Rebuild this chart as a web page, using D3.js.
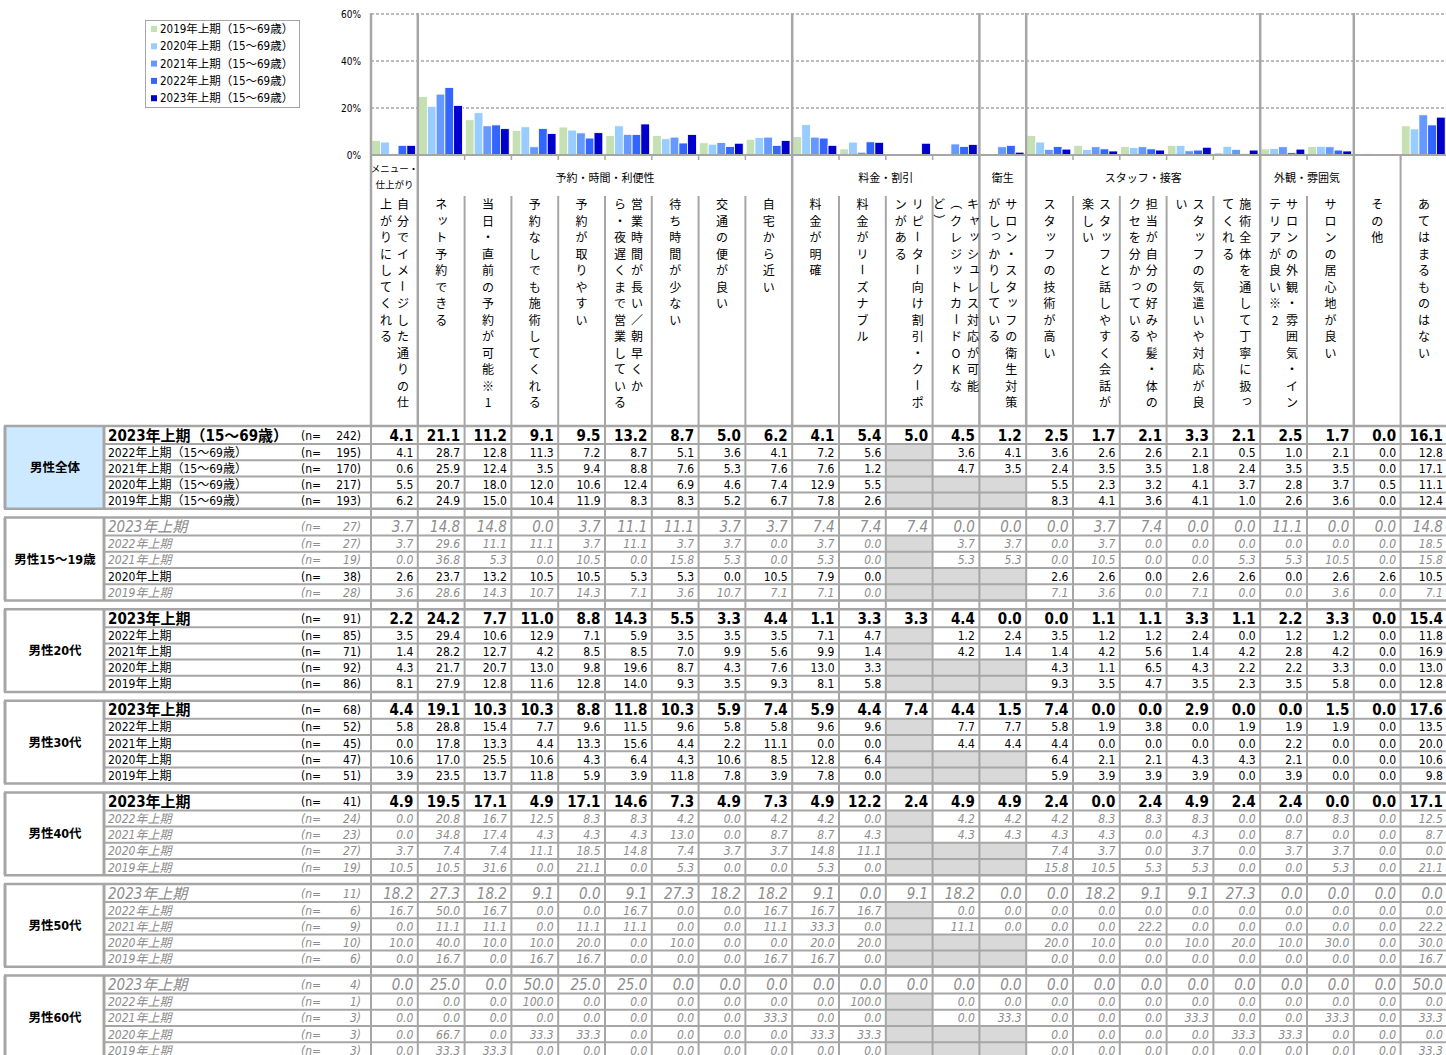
<!DOCTYPE html>
<html><head><meta charset="utf-8">
<script src="https://cdn.jsdelivr.net/npm/d3@7"></script>
<style>
body{margin:0;background:#fff;}
svg{display:block;}
text{font-family:'DejaVu Sans Condensed','DejaVu Sans','Noto Sans CJK JP',sans-serif;}
.jp{font-family:'Noto Sans CJK JP',sans-serif;}
</style></head><body>
<svg id="c" width="1446" height="1055"></svg>
<script>
// ---------------- DATA ----------------
const legendLabels = ["2019年上期（15～69歳）","2020年上期（15～69歳）","2021年上期（15～69歳）","2022年上期（15～69歳）","2023年上期（15～69歳）"];
const yTicks = [0,20,40,60];
const groupLabels = [
  {lines:["メニュー・","仕上がり"], start:0, end:1},
  {lines:["予約・時間・利便性"], start:1, end:9},
  {lines:["料金・割引"], start:9, end:13},
  {lines:["衛生"], start:13, end:14},
  {lines:["スタッフ・接客"], start:14, end:19},
  {lines:["外観・雰囲気"], start:19, end:21},
  {lines:[], start:21, end:22},
  {lines:[], start:22, end:23}
];
const columnLabels = [
  ["自分でイメージした通りの仕","上がりにしてくれる"],
  ["ネット予約できる"],
  ["当日・直前の予約が可能※1"],
  ["予約なしでも施術してくれる"],
  ["予約が取りやすい"],
  ["営業時間が長い／朝早くか","ら・夜遅くまで営業している"],
  ["待ち時間が少ない"],
  ["交通の便が良い"],
  ["自宅から近い"],
  ["料金が明確"],
  ["料金がリーズナブル"],
  ["リピーター向け割引・クーポ","ンがある"],
  ["キャッシュレス対応が可能","（クレジットカードOKな","ど）"],
  ["サロン・スタッフの衛生対策","がしっかりしている"],
  ["スタッフの技術が高い"],
  ["スタッフと話しやすく会話が","楽しい"],
  ["担当が自分の好みや髪・体の","クセを分かっている"],
  ["スタッフの気遣いや対応が良","い"],
  ["施術全体を通して丁寧に扱っ","てくれる"],
  ["サロンの外観・雰囲気・イン","テリアが良い※2"],
  ["サロンの居心地が良い"],
  ["その他"],
  ["あてはまるものはない"]
];
const segments = ["男性全体","男性15～19歳","男性20代","男性30代","男性40代","男性50代","男性60代"];
const periodLabelsAll = ["2023年上期（15～69歳）","2022年上期（15～69歳）","2021年上期（15～69歳）","2020年上期（15～69歳）","2019年上期（15～69歳）"];
const periodLabels = ["2023年上期","2022年上期","2021年上期","2020年上期","2019年上期"];

const nAll = [242,195,170,217,193];
const vAll = [
  [4.1,21.1,11.2,9.1,9.5,13.2,8.7,5.0,6.2,4.1,5.4,5.0,4.5,1.2,2.5,1.7,2.1,3.3,2.1,2.5,1.7,0.0,16.1],
  [4.1,28.7,12.8,11.3,7.2,8.7,5.1,3.6,4.1,7.2,5.6,null,3.6,4.1,3.6,2.6,2.6,2.1,0.5,1.0,2.1,0.0,12.8],
  [0.6,25.9,12.4,3.5,9.4,8.8,7.6,5.3,7.6,7.6,1.2,null,4.7,3.5,2.4,3.5,3.5,1.8,2.4,3.5,3.5,0.0,17.1],
  [5.5,20.7,18.0,12.0,10.6,12.4,6.9,4.6,7.4,12.9,5.5,null,null,null,5.5,2.3,3.2,4.1,3.7,2.8,3.7,0.5,11.1],
  [6.2,24.9,15.0,10.4,11.9,8.3,8.3,5.2,6.7,7.8,2.6,null,null,null,8.3,4.1,3.6,4.1,1.0,2.6,3.6,0.0,12.4]
];
const n1519 = [27,27,19,38,28];
const v1519 = [
  [3.7,14.8,14.8,0.0,3.7,11.1,11.1,3.7,3.7,7.4,7.4,7.4,0.0,0.0,0.0,3.7,7.4,0.0,0.0,11.1,0.0,0.0,14.8],
  [3.7,29.6,11.1,11.1,3.7,11.1,3.7,3.7,0.0,3.7,0.0,null,3.7,3.7,0.0,3.7,0.0,0.0,0.0,0.0,0.0,0.0,18.5],
  [0.0,36.8,5.3,0.0,10.5,0.0,15.8,5.3,0.0,5.3,0.0,null,5.3,5.3,0.0,10.5,0.0,0.0,5.3,5.3,10.5,0.0,15.8],
  [2.6,23.7,13.2,10.5,10.5,5.3,5.3,0.0,10.5,7.9,0.0,null,null,null,2.6,2.6,0.0,2.6,2.6,0.0,2.6,2.6,10.5],
  [3.6,28.6,14.3,10.7,14.3,7.1,3.6,10.7,7.1,7.1,0.0,null,null,null,7.1,3.6,0.0,7.1,0.0,0.0,3.6,0.0,7.1]
];
const n20s = [91,85,71,92,86];
const v20s = [
  [2.2,24.2,7.7,11.0,8.8,14.3,5.5,3.3,4.4,1.1,3.3,3.3,4.4,0.0,0.0,1.1,1.1,3.3,1.1,2.2,3.3,0.0,15.4],
  [3.5,29.4,10.6,12.9,7.1,5.9,3.5,3.5,3.5,7.1,4.7,null,1.2,2.4,3.5,1.2,1.2,2.4,0.0,1.2,1.2,0.0,11.8],
  [1.4,28.2,12.7,4.2,8.5,8.5,7.0,9.9,5.6,9.9,1.4,null,4.2,1.4,1.4,4.2,5.6,1.4,4.2,2.8,4.2,0.0,16.9],
  [4.3,21.7,20.7,13.0,9.8,19.6,8.7,4.3,7.6,13.0,3.3,null,null,null,4.3,1.1,6.5,4.3,2.2,2.2,3.3,0.0,13.0],
  [8.1,27.9,12.8,11.6,12.8,14.0,9.3,3.5,9.3,8.1,5.8,null,null,null,9.3,3.5,4.7,3.5,2.3,3.5,5.8,0.0,12.8]
];
const n30s = [68,52,45,47,51];
const v30s = [
  [4.4,19.1,10.3,10.3,8.8,11.8,10.3,5.9,7.4,5.9,4.4,7.4,4.4,1.5,7.4,0.0,0.0,2.9,0.0,0.0,1.5,0.0,17.6],
  [5.8,28.8,15.4,7.7,9.6,11.5,9.6,5.8,5.8,9.6,9.6,null,7.7,7.7,5.8,1.9,3.8,0.0,1.9,1.9,1.9,0.0,13.5],
  [0.0,17.8,13.3,4.4,13.3,15.6,4.4,2.2,11.1,0.0,0.0,null,4.4,4.4,4.4,0.0,0.0,0.0,0.0,2.2,0.0,0.0,20.0],
  [10.6,17.0,25.5,10.6,4.3,6.4,4.3,10.6,8.5,12.8,6.4,null,null,null,6.4,2.1,2.1,4.3,4.3,2.1,0.0,0.0,10.6],
  [3.9,23.5,13.7,11.8,5.9,3.9,11.8,7.8,3.9,7.8,0.0,null,null,null,5.9,3.9,3.9,3.9,0.0,3.9,0.0,0.0,9.8]
];
const n40s = [41,24,23,27,19];
const v40s = [
  [4.9,19.5,17.1,4.9,17.1,14.6,7.3,4.9,7.3,4.9,12.2,2.4,4.9,4.9,2.4,0.0,2.4,4.9,2.4,2.4,0.0,0.0,17.1],
  [0.0,20.8,16.7,12.5,8.3,8.3,4.2,0.0,4.2,4.2,0.0,null,4.2,4.2,4.2,8.3,8.3,8.3,0.0,0.0,8.3,0.0,12.5],
  [0.0,34.8,17.4,4.3,4.3,4.3,13.0,0.0,8.7,8.7,4.3,null,4.3,4.3,4.3,4.3,0.0,4.3,0.0,8.7,0.0,0.0,8.7],
  [3.7,7.4,7.4,11.1,18.5,14.8,7.4,3.7,3.7,14.8,11.1,null,null,null,7.4,3.7,0.0,3.7,0.0,3.7,3.7,0.0,0.0],
  [10.5,10.5,31.6,0.0,21.1,0.0,5.3,0.0,0.0,5.3,0.0,null,null,null,15.8,10.5,5.3,5.3,0.0,0.0,5.3,0.0,21.1]
];
const n50s = [11,6,9,10,6];
const v50s = [
  [18.2,27.3,18.2,9.1,0.0,9.1,27.3,18.2,18.2,9.1,0.0,9.1,18.2,0.0,0.0,18.2,9.1,9.1,27.3,0.0,0.0,0.0,0.0],
  [16.7,50.0,16.7,0.0,0.0,16.7,0.0,0.0,16.7,16.7,16.7,null,0.0,0.0,0.0,0.0,0.0,0.0,0.0,0.0,0.0,0.0,0.0],
  [0.0,11.1,11.1,0.0,11.1,11.1,0.0,0.0,11.1,33.3,0.0,null,11.1,0.0,0.0,0.0,22.2,0.0,0.0,0.0,0.0,0.0,22.2],
  [10.0,40.0,10.0,10.0,20.0,0.0,10.0,0.0,0.0,20.0,20.0,null,null,null,20.0,10.0,0.0,10.0,20.0,10.0,30.0,0.0,30.0],
  [0.0,16.7,0.0,16.7,16.7,0.0,0.0,0.0,16.7,16.7,0.0,null,null,null,0.0,0.0,0.0,0.0,0.0,0.0,0.0,0.0,16.7]
];
const n60s = [4,1,3,3,3];
const v60s = [
  [0.0,25.0,0.0,50.0,25.0,25.0,0.0,0.0,0.0,0.0,0.0,0.0,0.0,0.0,0.0,0.0,0.0,0.0,0.0,0.0,0.0,0.0,50.0],
  [0.0,0.0,0.0,100.0,0.0,0.0,0.0,0.0,0.0,0.0,100.0,null,0.0,0.0,0.0,0.0,0.0,0.0,0.0,0.0,0.0,0.0,0.0],
  [0.0,0.0,0.0,0.0,0.0,0.0,0.0,0.0,33.3,0.0,0.0,null,0.0,33.3,0.0,0.0,0.0,33.3,0.0,0.0,33.3,0.0,33.3],
  [0.0,66.7,0.0,33.3,33.3,0.0,0.0,0.0,0.0,33.3,33.3,null,null,null,0.0,0.0,0.0,0.0,33.3,33.3,0.0,0.0,0.0],
  [0.0,33.3,33.3,0.0,0.0,0.0,0.0,0.0,0.0,0.0,0.0,null,null,null,0.0,0.0,0.0,0.0,0.0,0.0,0.0,0.0,33.3]
];

// ---------------- LAYOUT / STYLE ----------------
const seriesColors = ["#c5e0b3","#99ccff","#6699ff","#3366ff","#0000cc"];
const lineCol = "#a6a6a6";
const greyText = "#8c8c8c";
const blocks = [
  {name:segments[0], n:nAll, v:vAll, periods:periodLabelsAll, fill:"#cce9ff"},
  {name:segments[1], n:n1519, v:v1519, periods:periodLabels, fill:"#fff"},
  {name:segments[2], n:n20s, v:v20s, periods:periodLabels, fill:"#fff"},
  {name:segments[3], n:n30s, v:v30s, periods:periodLabels, fill:"#fff"},
  {name:segments[4], n:n40s, v:v40s, periods:periodLabels, fill:"#fff"},
  {name:segments[5], n:n50s, v:v50s, periods:periodLabels, fill:"#fff"},
  {name:segments[6], n:n60s, v:v60s, periods:periodLabels, fill:"#fff"}
];

const svg = d3.select("#c");
const x0 = 371, colW = 46.8, nCols = columnLabels.length;
const xRight = x0 + nCols*colW;
const xCol = d3.scaleBand().domain(d3.range(nCols)).range([x0, xRight]).padding(0);
const xSer = d3.scaleBand().domain(d3.range(5)).range([0.8, colW-2.2]).padding(0);
const y = d3.scaleLinear().domain([0,60]).range([155,14]);
const edge = b => x0 + b*colW;

// ---------- chart grid ----------
const gChart = svg.append("g");
yTicks.filter(t=>t>0).forEach(t=>{
  gChart.append("line").attr("x1",x0).attr("x2",xRight).attr("y1",y(t)).attr("y2",y(t))
    .attr("stroke",lineCol).attr("stroke-width",1.5).attr("stroke-dasharray","3,2");
});
yTicks.forEach(t=>{
  gChart.append("text").attr("x",361).attr("y",y(t)+4).attr("text-anchor","end")
    .attr("font-size",10).attr("fill","#000").text(t+"%");
});

// bars (男性全体)
const seriesRows = [4,3,2,1,0]; // 2019..2023 -> row index in vAll
columnLabels.forEach((_,i)=>{
  seriesRows.forEach((r,s)=>{
    const v = vAll[r][i];
    if (v==null) return;
    gChart.append("rect").attr("x",xCol(i)+xSer(s)).attr("y",y(v))
      .attr("width",xSer.bandwidth()).attr("height",Math.max(0,y(0)-y(v)))
      .attr("fill",seriesColors[s]).attr("stroke","#fff").attr("stroke-width",0.8);
  });
});

const chartGroupEdges = [0,1,9,13,14,19,21];
chartGroupEdges.forEach(b=>{
  gChart.append("line").attr("x1",edge(b)).attr("x2",edge(b)).attr("y1",13).attr("y2",155)
    .attr("stroke",lineCol).attr("stroke-width",2.5);
});
gChart.append("line").attr("x1",x0).attr("x2",xRight).attr("y1",155).attr("y2",155)
  .attr("stroke",lineCol).attr("stroke-width",2);
d3.range(nCols+1).forEach(b=>{
  gChart.append("line").attr("x1",edge(b)).attr("x2",edge(b)).attr("y1",155).attr("y2",160)
    .attr("stroke",lineCol).attr("stroke-width",1.5);
});

// legend
const gLeg = svg.append("g");
gLeg.append("rect").attr("x",145.5).attr("y",20.5).attr("width",154).attr("height",87)
  .attr("fill","#fff").attr("stroke",lineCol).attr("stroke-width",1);
legendLabels.forEach((l,k)=>{
  const cy = 29 + k*17.3;
  gLeg.append("rect").attr("x",151).attr("y",cy-3).attr("width",6).attr("height",6).attr("fill",seriesColors[k]);
  gLeg.append("text").attr("x",160).attr("y",cy+4).attr("font-size",11.5).attr("fill","#000").text(l);
});

// ---------- header ----------
const gHead = svg.append("g");
const fullEdges = new Set([0,1,9,13,14,19,21,22,23]);
d3.range(nCols+1).forEach(b=>{
  gHead.append("line").attr("x1",edge(b)).attr("x2",edge(b))
    .attr("y1", fullEdges.has(b)?155:196).attr("y2",426)
    .attr("stroke",lineCol).attr("stroke-width",fullEdges.has(b)&&b!==22?2.5:2);
});
groupLabels.forEach(g=>{
  const cx = (edge(g.start)+edge(g.end))/2;
  if (g.lines.length===2){
    g.lines.forEach((ln,j)=>{
      gHead.append("text").attr("class","jp").attr("x",cx).attr("y",172+j*15.5).attr("text-anchor","middle")
        .attr("font-size",9.5).attr("fill","#000").text(ln);
    });
  } else if (g.lines.length===1){
    gHead.append("text").attr("class","jp").attr("x",cx).attr("y",182).attr("text-anchor","middle")
      .attr("font-size",11).attr("fill","#000").text(g.lines[0]);
  }
});
const rotChars = new Set(["ー","－","（","）","～","〜","―"]);
const smallChars = new Set(["ッ","ャ","ュ","ョ","ァ","ィ","ゥ","ェ","ォ","っ","ゃ","ゅ","ょ","ぁ","ぃ"]);
columnLabels.forEach((lines,i)=>{
  const cx = xCol(i)+colW/2;
  const n = lines.length;
  lines.forEach((ln,j)=>{
    const lx = cx + ((n-1)/2 - j)*17;
    Array.from(ln).forEach((ch,k)=>{
      const cy = 203.5 + k*16.5;
      const t = gHead.append("text").attr("class","jp").attr("x",lx).attr("y",cy)
        .attr("text-anchor","middle").attr("dominant-baseline","central")
        .attr("font-size",12).attr("fill","#000").text(ch);
      if (rotChars.has(ch)) t.attr("transform",`rotate(90,${lx},${cy})`);
      if (smallChars.has(ch)) t.attr("dx",1.5).attr("dy",-2);
    });
  });
});

// ---------- table ----------
const tableTop = 426, pitch = 91.6;
const rowOff = [0,18,34.2,50.4,66.6,82.8];
const gFill = svg.append("g"), gLines = svg.append("g"), gText = svg.append("g");
const blockTopOf = b => tableTop + b*pitch;

blocks.forEach((blk,b)=>{
  const top = blockTopOf(b);
  const bot = top + rowOff[5];
  gFill.append("rect").attr("x",5).attr("y",top).attr("width",99).attr("height",rowOff[5]).attr("fill",blk.fill);
  gText.append("text").attr("x",55).attr("y",top+rowOff[5]/2+4.5).attr("text-anchor","middle")
    .attr("font-size",12.5).attr("font-weight","bold").attr("fill","#000").text(blk.name);
  blk.v.forEach((row,r)=>{
    const rt = top+rowOff[r], rb = top+rowOff[r+1];
    const cy = (rt+rb)/2;
    const small = blk.n[r] < 30;
    const first = r===0;
    const col = small ? greyText : "#000";
    const fs = first ? 15 : 12;
    const base = cy + (first?5.5:4.5);
    const styleText = sel => {
      sel.attr("fill",col);
      if (small) sel.attr("font-style","italic");
      return sel;
    };
    const pt = gText.append("text").attr("x",108).attr("y",base).attr("font-size",fs).text(blk.periods[r]);
    styleText(pt); if (first && !small) pt.attr("font-weight","bold");
    styleText(gText.append("text").attr("x",301).attr("y",cy+4.5).attr("font-size",12).text("(n="));
    styleText(gText.append("text").attr("x",361).attr("y",cy+4.5).attr("font-size",12).attr("text-anchor","end").text(blk.n[r]+")"));
    row.forEach((v,i)=>{
      if (v==null){
        gFill.append("rect").attr("x",xCol(i)).attr("y",rt).attr("width",colW).attr("height",rb-rt).attr("fill","#d9d9d9");
        return;
      }
      const t = gText.append("text").attr("x",xCol(i)+colW-4.5).attr("y",base).attr("text-anchor","end")
        .attr("font-size",fs).text(v.toFixed(1));
      styleText(t); if (first && !small) t.attr("font-weight","bold");
    });
  });
  rowOff.forEach((o,k)=>{
    const yy = top+o;
    const outer = (k===0||k===5);
    gLines.append("line").attr("x1", outer?4:104).attr("x2",xRight).attr("y1",yy).attr("y2",yy)
      .attr("stroke",lineCol).attr("stroke-width", outer?2.5:2);
  });
  [5,104].forEach(xx=>{
    gLines.append("line").attr("x1",xx).attr("x2",xx).attr("y1",top).attr("y2",bot)
      .attr("stroke",lineCol).attr("stroke-width",3);
  });
});
d3.range(nCols+1).forEach(b=>{
  gLines.append("line").attr("x1",edge(b)).attr("x2",edge(b)).attr("y1",tableTop).attr("y2",1055)
    .attr("stroke",lineCol).attr("stroke-width",2);
});
</script>
</body></html>
